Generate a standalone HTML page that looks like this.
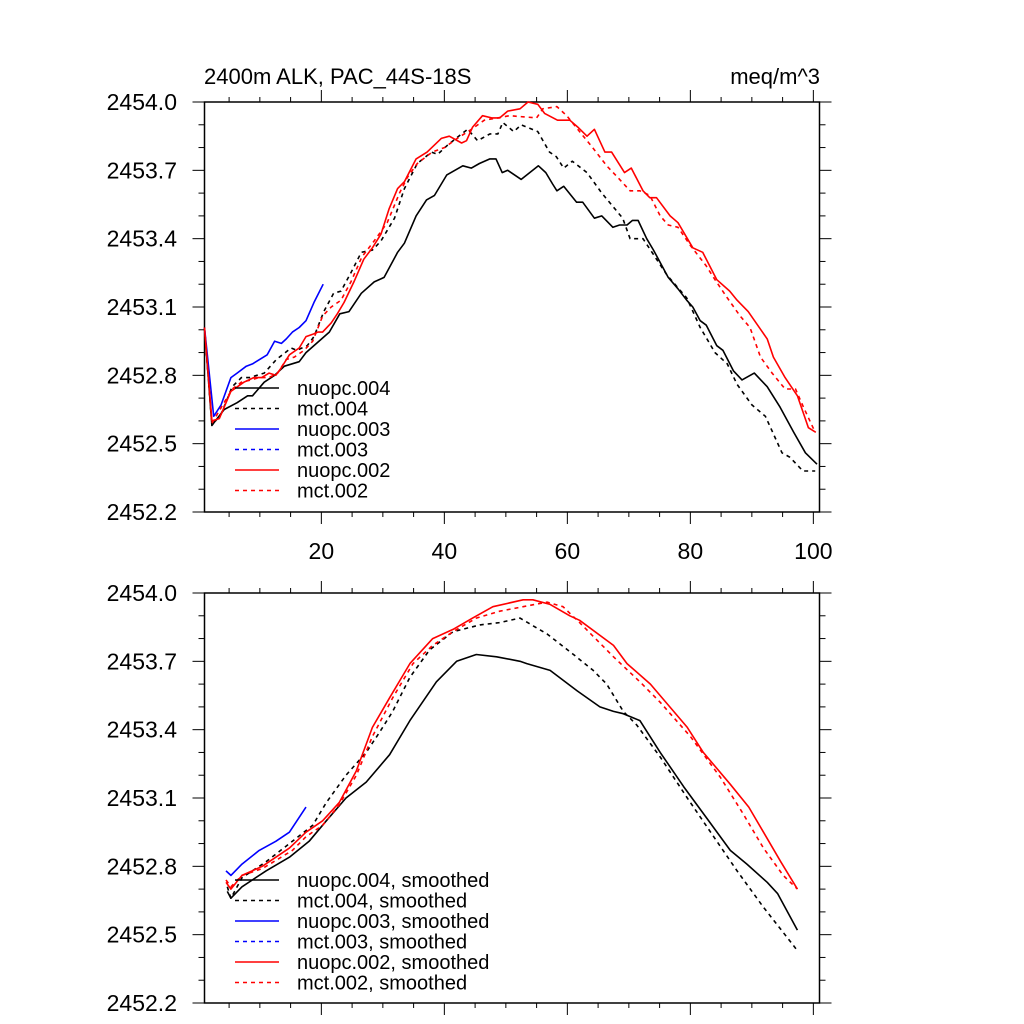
<!DOCTYPE html>
<html><head><meta charset="utf-8"><style>
html,body{margin:0;padding:0;background:#fff;}
svg{display:block;font-family:"Liberation Sans",Arial,sans-serif;}
</style></head><body>
<svg id="chart" width="1024" height="1024" viewBox="0 0 1024 1024" xmlns="http://www.w3.org/2000/svg">
<text x="204" y="84" font-size="22">2400m ALK, PAC_44S-18S</text>
<text x="820" y="84" font-size="22" text-anchor="end">meq/m^3</text>
</svg>
<script>
// ---- data (top panel, raw) ----
const n004x=[1,2.2,4.2,6.3,8,8.8,10.7,12.4,14,16.4,17.5,21.3,23,24.5,26.5,28.6,30.2,32.4,33.5,35.4,37.1,38.4,40.4,43,44.4,45.7,47.4,48.4,49.4,50.3,52.5,55.3,56.5,57.6,58.3,59.4,61.5,62.5,64.4,65.6,67.4,68.5,69.7,70.6,71.5,72.9,74,76.4,78,79.4,80.4,81.6,82.6,84.3,85.3,87,88.4,90.4,92.5,94.6,96.8,98.7,100.6];
const n004y=[2453.01,2452.58,2452.65,2452.68,2452.71,2452.71,2452.77,2452.80,2452.84,2452.86,2452.90,2452.99,2453.07,2453.08,2453.16,2453.21,2453.23,2453.34,2453.38,2453.50,2453.57,2453.59,2453.68,2453.72,2453.71,2453.73,2453.75,2453.75,2453.69,2453.70,2453.66,2453.72,2453.69,2453.64,2453.61,2453.63,2453.56,2453.56,2453.49,2453.50,2453.45,2453.46,2453.46,2453.48,2453.48,2453.40,2453.35,2453.23,2453.18,2453.13,2453.10,2453.04,2453.02,2452.93,2452.91,2452.82,2452.78,2452.81,2452.75,2452.66,2452.55,2452.46,2452.41];
const m004x=[1,2.2,3.7,5.5,7,8.3,10.7,12.7,15.1,16,17.7,18.8,20.4,22,23.2,24.8,26.5,28.3,29.7,31.9,33.5,35.6,37.9,38.9,40.5,42.8,43.8,45.4,47.4,48.7,49.5,51.3,52.5,55.2,57.1,58.2,59.4,60.8,63.2,65.6,69,70.2,72.3,74,76.2,79.4,81.6,84,86,87.6,90,92.2,94.9,96.2,98.3,100.3];
const m004y=[2453.01,2452.58,2452.63,2452.75,2452.79,2452.79,2452.81,2452.87,2452.92,2452.91,2452.93,2452.97,2453.08,2453.16,2453.17,2453.25,2453.34,2453.35,2453.39,2453.49,2453.62,2453.73,2453.78,2453.77,2453.81,2453.86,2453.88,2453.83,2453.86,2453.86,2453.91,2453.87,2453.90,2453.87,2453.78,2453.76,2453.71,2453.74,2453.69,2453.60,2453.49,2453.40,2453.40,2453.33,2453.24,2453.14,2453.01,2452.90,2452.85,2452.76,2452.67,2452.62,2452.46,2452.44,2452.38,2452.38];
const n003x=[1,2.5,3.7,5.3,6.3,7.8,8.8,11.2,12.4,13.5,14.3,15.3,16.4,17.5,18.8,20.3];
const n003y=[2453.01,2452.62,2452.67,2452.79,2452.81,2452.84,2452.85,2452.89,2452.95,2452.94,2452.96,2452.99,2453.01,2453.04,2453.12,2453.20];
const n002x=[1,2.2,3.4,5.3,7.4,9,10.3,11.5,12.6,13.4,14.8,16.4,17.5,18.6,19.4,20.2,21.6,22.6,23.7,25.3,26.9,28.3,29.7,31,32.4,33.5,35.4,37.2,39.5,40.8,42.8,43.6,44.6,46.2,47.7,49,50.3,52.3,53.6,55.2,56.3,58.4,60.4,61.7,63.2,64.4,66.1,67.2,69.3,70.4,72.3,73.4,74.5,76.7,78,80.4,82,84.3,86.4,87.6,89.4,92.5,93.5,95.4,97.4,99.2,100.4];
const n002y=[2453.01,2452.60,2452.61,2452.73,2452.77,2452.79,2452.79,2452.81,2452.80,2452.83,2452.89,2452.92,2452.97,2452.98,2452.99,2452.99,2453.03,2453.07,2453.12,2453.21,2453.31,2453.36,2453.42,2453.53,2453.62,2453.65,2453.75,2453.78,2453.84,2453.85,2453.82,2453.83,2453.89,2453.94,2453.93,2453.93,2453.96,2453.97,2454.00,2453.99,2453.95,2453.92,2453.92,2453.89,2453.85,2453.88,2453.78,2453.78,2453.69,2453.71,2453.61,2453.58,2453.58,2453.50,2453.47,2453.36,2453.34,2453.22,2453.17,2453.13,2453.08,2452.96,2452.88,2452.79,2452.71,2452.57,2452.55];
const m002x=[1,2.2,5.5,7,8.6,9.9,11.5,12.9,14.3,15.6,17.2,18.6,20.2,21.6,23.2,24.8,26.6,28.6,30.7,32.7,34,35.6,38,40,42.1,44.4,46.5,48.7,50.6,55,56,58.3,59.9,62,64.1,66.4,68.5,70.2,71.8,73.4,75.1,76.4,78,80,82.6,84,86,88.1,89.7,91.4,93.3,95.4,97.1,98.4,100.3];
const m002y=[2453.01,2452.59,2452.74,2452.77,2452.78,2452.79,2452.79,2452.81,2452.87,2452.88,2452.91,2452.95,2453.06,2453.10,2453.13,2453.21,2453.32,2453.39,2453.47,2453.60,2453.67,2453.73,2453.78,2453.80,2453.84,2453.88,2453.92,2453.93,2453.94,2453.93,2453.97,2453.98,2453.94,2453.87,2453.80,2453.72,2453.66,2453.61,2453.61,2453.59,2453.50,2453.46,2453.45,2453.37,2453.28,2453.22,2453.14,2453.06,2453.01,2452.88,2452.81,2452.74,2452.74,2452.66,2452.55];
// ---- data (bottom panel, smoothed) ----
const sn004x=[4.7,5.3,7.1,11,14.8,18,20.8,24,27.3,31.1,34.4,38.7,42,45.2,48.5,52.3,53.4,57.2,61.6,65.3,67.5,69.1,71.8,75.1,78.9,82.7,86.5,89.2,92.5,94.2,97.4];
const sn004y=[2452.69,2452.66,2452.71,2452.78,2452.84,2452.91,2453.00,2453.10,2453.17,2453.29,2453.44,2453.61,2453.70,2453.73,2453.72,2453.70,2453.69,2453.66,2453.57,2453.50,2453.48,2453.47,2453.44,2453.30,2453.15,2453.01,2452.87,2452.81,2452.73,2452.68,2452.52];
const sm004x=[4.7,5.3,7.1,11,14.8,18.6,20.8,24,27.3,29.5,31.6,34.4,37.6,41.4,45.8,49,52.3,56.7,61,64.2,66.4,69.1,71.3,75.1,79.5,83.8,87.6,91.9,95.1,97.4];
const sm004y=[2452.71,2452.66,2452.75,2452.82,2452.90,2452.98,2453.08,2453.20,2453.30,2453.39,2453.48,2453.63,2453.75,2453.83,2453.86,2453.87,2453.89,2453.82,2453.73,2453.66,2453.60,2453.48,2453.42,2453.28,2453.10,2452.93,2452.78,2452.62,2452.51,2452.43];
const sn003x=[4.5,5.3,7.1,9.9,12.6,14.8,17.5];
const sn003y=[2452.78,2452.76,2452.81,2452.87,2452.91,2452.95,2453.06];
const sn002x=[4.5,5.3,7.1,10.4,14.8,17.5,20.2,22.9,25.7,28.3,31.1,34.4,38.1,41.4,44.6,47.9,52.8,54.4,57.2,60.4,62,67.5,69.7,73.5,79.5,82.1,86.5,89.5,91.9,94.7,97.4];
const sn002y=[2452.73,2452.70,2452.76,2452.80,2452.88,2452.95,2453.00,2453.08,2453.22,2453.41,2453.54,2453.69,2453.80,2453.84,2453.89,2453.94,2453.97,2453.97,2453.95,2453.90,2453.88,2453.77,2453.69,2453.60,2453.41,2453.30,2453.16,2453.06,2452.95,2452.82,2452.70];
const sm002x=[4.5,5.3,7.1,10.4,15.3,17.5,20.2,22.9,25.7,28.3,31.6,34.9,38.1,41.4,45.2,49,52.8,56.7,59.3,62,67.5,71.8,75.1,80,84.9,88.6,91.9,95.1,97.4];
const sm002y=[2452.74,2452.71,2452.76,2452.79,2452.87,2452.93,2452.98,2453.07,2453.20,2453.37,2453.54,2453.69,2453.77,2453.83,2453.89,2453.92,2453.94,2453.96,2453.94,2453.87,2453.72,2453.61,2453.52,2453.37,2453.19,2453.03,2452.88,2452.76,2452.70];
// ---- ticks / labels ----
const yTicks=[2452.2,2452.5,2452.8,2453.1,2453.4,2453.7,2454.0];
const yTickLabels=["2452.2","2452.5","2452.8","2453.1","2453.4","2453.7","2454.0"];
const xTicks=[20,40,60,80,100];
const xTickLabels=["20","40","60","80","100"];
const topLegend=["nuopc.004","mct.004","nuopc.003","mct.003","nuopc.002","mct.002"];
const botLegend=["nuopc.004, smoothed","mct.004, smoothed","nuopc.003, smoothed","mct.003, smoothed","nuopc.002, smoothed","mct.002, smoothed"];

const NS="http://www.w3.org/2000/svg";
const svg=document.getElementById('chart');
const X0=204.5, X1=819.5, XMIN=1, XMAX=101;
const YMIN=2452.2, YMAX=2454.0;
function xs(v){return X0+(v-XMIN)/(XMAX-XMIN)*(X1-X0);}
function mk(tag,attrs){const e=document.createElementNS(NS,tag);for(const k in attrs)e.setAttribute(k,attrs[k]);return e;}
const panels=[{top:102,bot:512,name:'top'},{top:593,bot:1003,name:'bottom'}];
const styles=[{c:'#000',d:''},{c:'#000',d:'4,4'},{c:'#0000ff',d:''},{c:'#0000ff',d:'4,4'},{c:'#ff0000',d:''},{c:'#ff0000',d:'4,4'}];

panels.forEach((p,pi)=>{
  const ys=v=>p.bot-(v-YMIN)/(YMAX-YMIN)*(p.bot-p.top);
  const g=mk('g',{});
  
  
  svg.appendChild(g);
  const frame=mk('rect',{x:X0,y:p.top,width:X1-X0,height:p.bot-p.top,fill:'none',stroke:'#000','stroke-width':1.5});
  
  
  g.appendChild(frame);
  for(let i=0;i<=18;i++){
    const v=YMIN+i*0.1, y=ys(v), major=(i%3===0), L=major?12:6;
    g.appendChild(mk('line',{x1:X0-L,x2:X0,y1:y,y2:y,stroke:'#000','stroke-width':1}));
    g.appendChild(mk('line',{x1:X1,x2:X1+L,y1:y,y2:y,stroke:'#000','stroke-width':1}));
  }
  yTicks.forEach((v,i)=>{
    const t=mk('text',{x:177,y:ys(v)+8,'font-size':23,'text-anchor':'end'});
    
    
    t.textContent=yTickLabels[i];g.appendChild(t);
  });
  for(let v=5;v<=100;v+=5){
    const x=xs(v), L=(v%20===0)?12:5;
    g.appendChild(mk('line',{x1:x,x2:x,y1:p.top-L,y2:p.top,stroke:'#000','stroke-width':1}));
    g.appendChild(mk('line',{x1:x,x2:x,y1:p.bot,y2:p.bot+L,stroke:'#000','stroke-width':1}));
  }
  if(pi===0){
    xTicks.forEach((v,i)=>{
      const t=mk('text',{x:xs(v),y:559,'font-size':23,'text-anchor':'middle'});
      
      
      t.textContent=xTickLabels[i];g.appendChild(t);
    });
  }
  const series = pi===0
    ? [[n004x,n004y],[m004x,m004y],[n003x,n003y],[n003x,n003y],[n002x,n002y],[m002x,m002y]]
    : [[sn004x,sn004y],[sm004x,sm004y],[sn003x,sn003y],[sn003x,sn003y],[sn002x,sn002y],[sm002x,sm002y]];
  const names=pi===0?topLegend:botLegend;
  series.forEach((s,si)=>{
    if(si===3) return;
    const pts=s[0].map((x,k)=>xs(x).toFixed(1)+','+ys(s[1][k]).toFixed(1)).join(' ');
    const pl=mk('polyline',{points:pts,fill:'none',stroke:styles[si].c,'stroke-width':1.6,'stroke-linejoin':'round'});
    if(styles[si].d) pl.setAttribute('stroke-dasharray',styles[si].d);
    
    
    g.appendChild(pl);
  });
  const ly0=pi===0?388:880;
  names.forEach((nm,i)=>{
    const y=ly0+i*20.5;
    const ln=mk('line',{x1:235,x2:279,y1:y,y2:y,stroke:styles[i].c,'stroke-width':1.6});
    if(styles[i].d) ln.setAttribute('stroke-dasharray',styles[i].d);
    
    
    g.appendChild(ln);
    const t=mk('text',{x:297,y:y+7,'font-size':20});
    
    
    t.textContent=nm;g.appendChild(t);
  });
});
</script>
</body></html>
